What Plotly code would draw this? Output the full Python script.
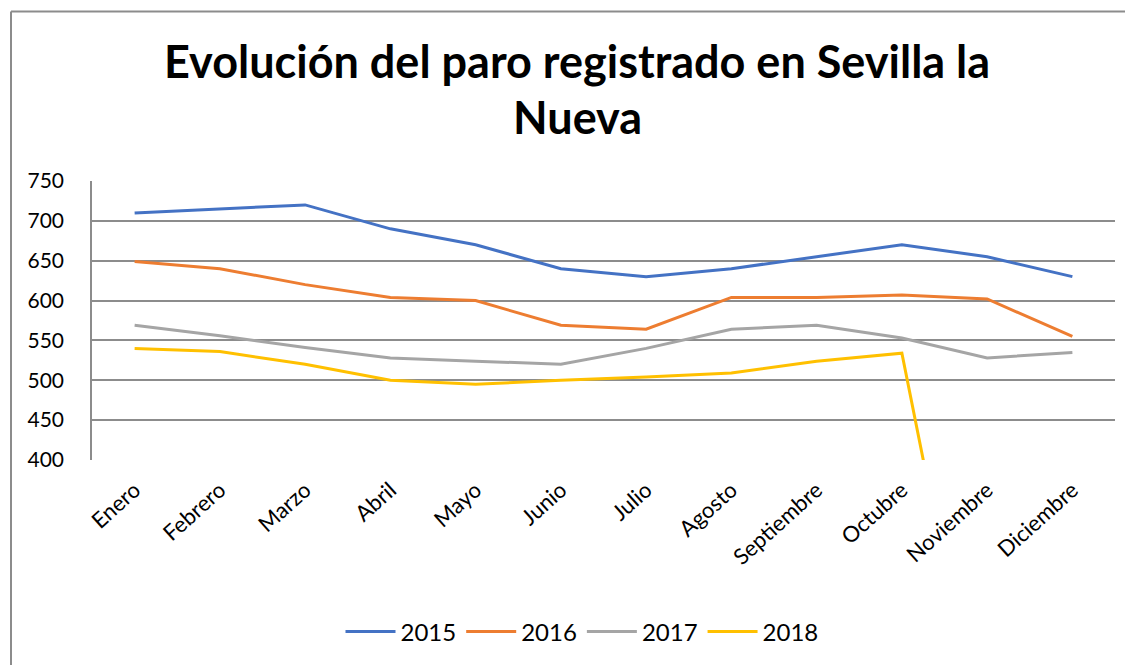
import plotly.graph_objects as go

months = ["Enero", "Febrero", "Marzo", "Abril", "Mayo", "Junio", "Julio",
          "Agosto", "Septiembre", "Octubre", "Noviembre", "Diciembre"]
paro_2015 = [710, 715, 720, 690, 670, 640, 630, 640, 655, 670, 655, 630]
paro_2016 = [649, 640, 620, 604, 600, 569, 564, 604, 604, 607, 602, 555]
paro_2017 = [569, 556, 541, 528, 524, 520, 540, 564, 569, 553, 528, 535]
paro_2018 = [540, 536, 520, 500, 495, 500, 504, 509, 524, 534, 0, 0]
y_ticks = [400, 450, 500, 550, 600, 650, 700, 750]
title_lines = ["Evolución del paro registrado en Sevilla la", "Nueva"]

series = [("2015", paro_2015, "#4472C4"),
          ("2016", paro_2016, "#ED7D31"),
          ("2017", paro_2017, "#A5A5A5"),
          ("2018", paro_2018, "#FFC000")]

FONT = "Lato, Carlito, Calibri, sans-serif"

fig = go.Figure()
for name, vals, col in series:
    fig.add_trace(go.Scatter(x=months, y=vals, name=name, mode="lines",
                             line=dict(color=col, width=3), cliponaxis=True))

# page offset from the default body margin
OX, OY = 8, 8
W, H = 1133 - OX, 665 - OY
# desired page coordinates of the plot area
L, R, T, B = 92, 1115, 181, 461
pw, ph = R - L, B - T

def px(x):
    return (x - L) / pw

def py(y):
    return (B - y) / ph

annotations = [
    dict(text="<b>%s</b>" % title_lines[0], x=px(577), y=py(61), xref="paper", yref="paper",
         xanchor="center", yanchor="middle", showarrow=False,
         font=dict(family=FONT, size=45, color="#000000")),
    dict(text="<b>%s</b>" % title_lines[1], x=px(577), y=py(117), xref="paper", yref="paper",
         xanchor="center", yanchor="middle", showarrow=False,
         font=dict(family=FONT, size=45, color="#000000")),
]

fig.update_layout(
    width=W, height=H,
    margin=dict(l=L - OX, r=1133 - R, t=T - OY, b=665 - B, pad=0),
    paper_bgcolor="white", plot_bgcolor="white",
    font=dict(family=FONT, color="#000000", size=21),
    annotations=annotations,
    showlegend=True,
    legend=dict(orientation="h", x=px(582), xanchor="center", y=py(632), yanchor="middle",
                font=dict(family=FONT, size=24, color="#000000"),
                itemwidth=50, traceorder="normal", bgcolor="rgba(0,0,0,0)"),
    xaxis=dict(type="category", tickangle=-42, showgrid=False, showline=False,
               ticks="", ticklabelstandoff=12, tickfont=dict(family=FONT, size=22),
               range=[-0.5, 11.5], zeroline=False),
    yaxis=dict(range=[400, 750], tickvals=y_ticks, showgrid=True,
               gridcolor="#8C8C8C", gridwidth=1.5, showline=True,
               linecolor="#8C8C8C", linewidth=1.5, ticks="", zeroline=False,
               ticklabelstandoff=22, tickfont=dict(family=FONT, size=21)),
    shapes=[
        dict(type="line", xref="paper", yref="paper", x0=px(11), x1=px(1140),
             y0=py(11), y1=py(11), line=dict(color="#8C8C8C", width=2)),
        dict(type="line", xref="paper", yref="paper", x0=px(11), x1=px(11),
             y0=py(11), y1=py(670), line=dict(color="#8C8C8C", width=2)),
    ],
)

fig.write_html("out.html")
